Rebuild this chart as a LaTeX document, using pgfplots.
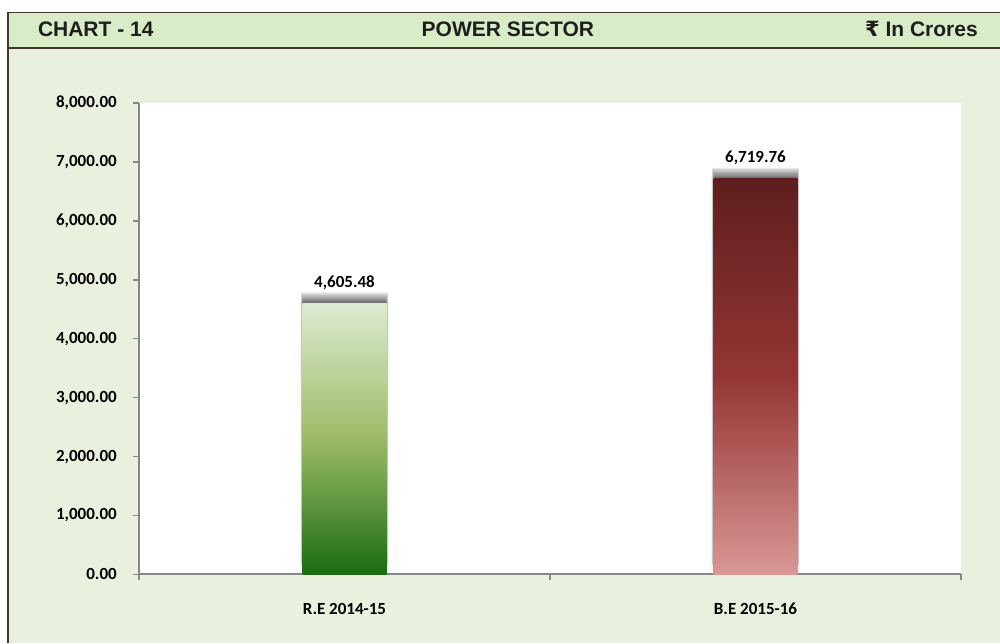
\documentclass[border=0pt]{standalone}
\usepackage{fontspec}
\setmainfont{Carlito}
\newfontfamily\headfont{Liberation Sans}
\newfontfamily\rupfont{DejaVu Sans}
\usepackage{pgfplots}
\pgfplotsset{compat=1.18}

\definecolor{headbg}{HTML}{D9ECC8}
\definecolor{bodybg}{HTML}{EAF0DE}
\definecolor{framec}{HTML}{43372A}
\definecolor{headtxt}{HTML}{1E1E1E}
\definecolor{axgray}{HTML}{878787}
\definecolor{grtop}{HTML}{DDEBD0}
\definecolor{grmid}{HTML}{9CBB67}
\definecolor{grbot}{HTML}{1A6B12}
\definecolor{rdtop}{HTML}{5E1E1E}
\definecolor{rdmid}{HTML}{943533}
\definecolor{rdbot}{HTML}{D99795}

\newcommand{\lbl}{\bfseries\fontsize{12.75}{15}\selectfont}

\pgfplotsset{
  shadowbar/.style={ybar, bar shift=0pt, bar width=63pt, draw=none, fill=black,
    fill opacity=0.085, forget plot},
}

\begin{document}
\begin{tikzpicture}
  % page: 1 px of the reference = 0.75pt
  \path[use as bounding box] (0,0) rectangle (750pt,482.25pt);
  \fill[bodybg] (6pt,0) rectangle (750pt,446.25pt);
  \fill[headbg] (6pt,446.25pt) rectangle (750pt,472.9pt);
  \draw[framec, line width=1.1pt] (6pt,0) -- (6pt,472.9pt) -- (750pt,472.9pt);
  \draw[framec, line width=1.1pt] (6pt,446.25pt) -- (750pt,446.25pt);

  \begin{scope}[font=\headfont\bfseries\fontsize{15.75}{18}\selectfont, text=headtxt]
    \node[anchor=base west, inner sep=0pt] at (28.3pt,454.7pt) {CHART - 14};
    \node[anchor=base, inner sep=0pt] at (380.9pt,454.7pt) {POWER SECTOR};
    \node[anchor=base east, inner sep=0pt] at (733.5pt,454.7pt) {{\rupfont\bfseries ₹} In Crores};
  \end{scope}

  \begin{axis}[
      at={(104.25pt,51.4pt)}, anchor=south west,
      scale only axis,
      width=616.5pt, height=353.6pt,
      xmin=-0.5, xmax=1.5,
      ymin=0, ymax=8000,
      axis background/.style={fill=white},
      axis x line*=bottom, axis y line*=left,
      x axis line style={draw=axgray, line width=1.5pt, -},
      y axis line style={draw=axgray, line width=1.1pt, -},
      tick align=outside,
      major tick length=4.5pt,
      tick style={draw=axgray, line width=1.1pt},
      ytick={0,1000,...,8000},
      scaled y ticks=false,
      xtick={-0.5,0.5,1.5},
      xticklabels={},
      extra x ticks={0,1},
      extra x tick labels={R.E 2014-15, B.E 2015-16},
      extra x tick style={major tick length=0pt},
      /pgf/number format/fixed,
      /pgf/number format/fixed zerofill,
      /pgf/number format/precision=2,
      /pgf/number format/1000 sep={,},
      /pgf/number format/assume math mode=true,
      yticklabel style={font=\lbl, anchor=east, inner sep=0pt, xshift=-12pt},
      xticklabel style={font=\lbl, anchor=base, inner sep=0pt, yshift=-29.9pt},
      nodes near coords style={font=\lbl, anchor=base, inner sep=0pt, yshift=11.8pt, text=black},
      clip=false,
    ]
    % faint glow along the sides
    \addplot[shadowbar, bar width=67pt, fill opacity=0.04, yshift=2pt]
      coordinates {(0,4605.48) (1,6719.76)};
    % soft shadow above the bars
    \addplot[shadowbar, yshift=1pt]   coordinates {(0,4605.48) (1,6719.76)};
    \addplot[shadowbar, yshift=2pt]   coordinates {(0,4605.48) (1,6719.76)};
    \addplot[shadowbar, yshift=3pt]   coordinates {(0,4605.48) (1,6719.76)};
    \addplot[shadowbar, yshift=4pt]   coordinates {(0,4605.48) (1,6719.76)};
    \addplot[shadowbar, bar width=64pt, yshift=5pt]   coordinates {(0,4605.48) (1,6719.76)};
    \addplot[shadowbar, bar width=64pt, yshift=6pt]   coordinates {(0,4605.48) (1,6719.76)};
    \addplot[shadowbar, bar width=65pt, yshift=7pt]   coordinates {(0,4605.48) (1,6719.76)};
    \addplot[shadowbar, bar width=65pt, yshift=8pt]   coordinates {(0,4605.48) (1,6719.76)};

    % bars
    \addplot[ybar, bar shift=0pt, bar width=63pt, draw=none,
      top color=grtop, bottom color=grbot, middle color=grmid, nodes near coords]
      coordinates {(0,4605.48)};
    \addplot[ybar, bar shift=0pt, bar width=63pt, draw=none,
      top color=rdtop, bottom color=rdbot, middle color=rdmid, nodes near coords]
      coordinates {(1,6719.76)};
  \end{axis}
\end{tikzpicture}
\end{document}
